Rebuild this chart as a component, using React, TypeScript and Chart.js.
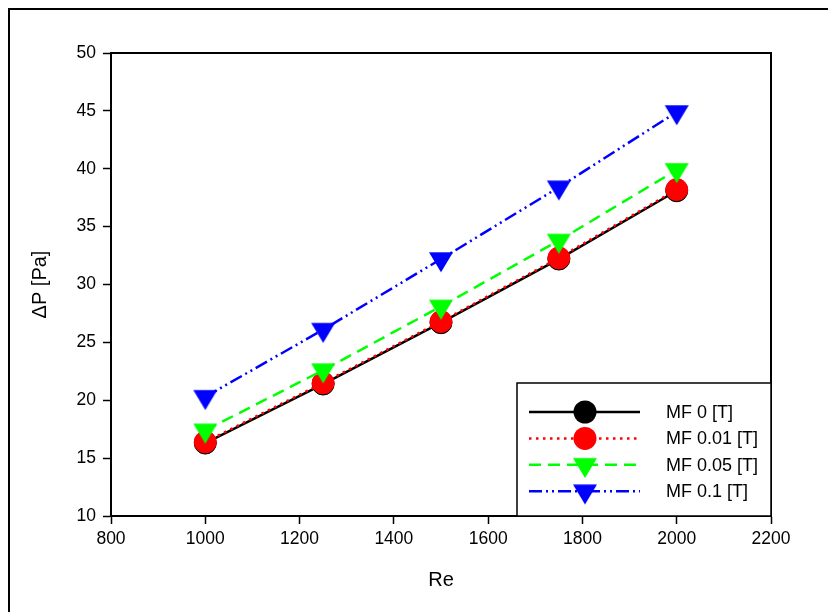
import React, { useEffect, useRef } from 'react';
import { Chart, registerables } from 'chart.js';

Chart.register(...registerables);

// ---- data ----
const reValues = [1000, 1250, 1500, 1750, 2000];
const mf0 = [16.3, 21.4, 26.7, 32.2, 38.1];
const mf001 = [16.4, 21.5, 26.8, 32.3, 38.2];
const mf005 = [17.4, 22.6, 28.1, 33.8, 39.9];
const mf01 = [20.3, 26.1, 32.2, 38.4, 44.9];
const seriesLabels = ['MF 0 [T]', 'MF 0.01 [T]', 'MF 0.05 [T]', 'MF 0.1 [T]'];
const xAxisTitle = 'Re';
const yAxisTitle = 'ΔP [Pa]';
const xMin = 800, xMax = 2200, xStep = 200;
const yMin = 10, yMax = 50, yStep = 5;

const FONT = "'Liberation Sans', Arial, sans-serif";

function makeTriangle(color: string): HTMLCanvasElement {
  const c = document.createElement('canvas');
  c.width = 30;
  c.height = 30;
  const ctx = c.getContext('2d')!;
  const w = 24, h = 20, cx = 15, cy = 15;
  const top = cy - h / 3;
  const bottom = cy + (2 * h) / 3;
  ctx.fillStyle = color;
  ctx.beginPath();
  ctx.moveTo(cx - w / 2, top);
  ctx.lineTo(cx + w / 2, top);
  ctx.lineTo(cx, bottom);
  ctx.closePath();
  ctx.fill();
  return c;
}

const framePlugin = {
  id: 'frame',
  beforeDraw(chart: any) {
    const ctx = chart.ctx;
    ctx.save();
    ctx.fillStyle = '#fff';
    ctx.fillRect(0, 0, chart.width, chart.height);
    ctx.strokeStyle = '#000';
    ctx.lineWidth = 2;
    ctx.beginPath();
    ctx.moveTo(9, chart.height + 5);
    ctx.lineTo(9, 9);
    ctx.lineTo(chart.width + 5, 9);
    ctx.stroke();
    ctx.restore();
  },
  afterDraw(chart: any) {
    const ctx = chart.ctx;
    const a = chart.chartArea;
    ctx.save();
    ctx.strokeStyle = '#000';
    ctx.lineWidth = 2;
    ctx.beginPath();
    ctx.moveTo(a.left, a.top);
    ctx.lineTo(a.right, a.top);
    ctx.lineTo(a.right, a.bottom);
    ctx.stroke();

    // legend box
    const bw = 254, bh = 133;
    const left = a.right - bw;
    const top = a.bottom - bh;
    ctx.fillStyle = '#fff';
    ctx.fillRect(left, top, bw, bh);
    ctx.lineWidth = 1.5;
    ctx.strokeRect(left, top, bw, bh);

    const ds = chart.data.datasets;
    const legendOrder = [0, 1, 2, 3];
    legendOrder.forEach((idx: number, i: number) => {
      const d = ds[idx];
      const y = top + 29 + i * 26.4;
      ctx.save();
      ctx.strokeStyle = d.borderColor;
      ctx.lineWidth = d.borderWidth;
      ctx.setLineDash(d.borderDash || []);
      ctx.beginPath();
      ctx.moveTo(left + 12, y);
      ctx.lineTo(left + 123, y);
      ctx.stroke();
      ctx.restore();
      const mx = left + 68;
      if (d.pointStyle === 'circle') {
        ctx.fillStyle = d.pointBackgroundColor;
        ctx.beginPath();
        ctx.arc(mx, y, d.pointRadius + 0.5, 0, Math.PI * 2);
        ctx.fill();
      } else {
        const img = d.pointStyle as HTMLCanvasElement;
        ctx.drawImage(img, mx - img.width / 2, y - img.height / 2);
      }
      ctx.fillStyle = '#000';
      ctx.font = `18px ${FONT}`;
      ctx.textBaseline = 'middle';
      ctx.textAlign = 'left';
      ctx.fillText(d.label, left + 149, y + 1);
    });
    ctx.restore();
  },
};

export default function App() {
  const canvasRef = useRef<HTMLCanvasElement | null>(null);

  useEffect(() => {
    if (!canvasRef.current) return;
    const pts = (vals: number[]) => reValues.map((x, i) => ({ x, y: vals[i] }));
    const triGreen = makeTriangle('#00ff00');
    const triBlue = makeTriangle('#0000ff');

    const chart = new Chart(canvasRef.current, {
      type: 'line',
      data: {
        datasets: [
          {
            label: seriesLabels[0],
            data: pts(mf0),
            borderColor: '#000000',
            borderWidth: 2.5,
            borderDash: [],
            pointStyle: 'circle',
            pointRadius: 11,
            pointBorderWidth: 1,
            pointBackgroundColor: '#000000',
            pointBorderColor: '#000000',
            order: 4,
          },
          {
            label: seriesLabels[1],
            data: pts(mf001),
            borderColor: '#ff0000',
            borderWidth: 2.5,
            borderDash: [2.5, 4.5],
            pointStyle: 'circle',
            pointRadius: 11,
            pointBorderWidth: 1,
            pointBackgroundColor: '#ff0000',
            pointBorderColor: '#ff0000',
            order: 3,
          },
          {
            label: seriesLabels[2],
            data: pts(mf005),
            borderColor: '#00ff00',
            borderWidth: 2.5,
            borderDash: [12, 7],
            pointStyle: triGreen,
            pointRadius: 12,
            pointBackgroundColor: '#00ff00',
            pointBorderColor: '#00ff00',
            order: 2,
          },
          {
            label: seriesLabels[3],
            data: pts(mf01),
            borderColor: '#0000ff',
            borderWidth: 2.5,
            borderDash: [13, 4, 2, 4, 2, 4],
            pointStyle: triBlue,
            pointRadius: 12,
            pointBackgroundColor: '#0000ff',
            pointBorderColor: '#0000ff',
            order: 1,
          },
        ] as any,
      },
      options: {
        responsive: false,
        animation: false,
        devicePixelRatio: 1,
        layout: { padding: { left: 0, right: 57, top: 53, bottom: 0 } },
        plugins: { legend: { display: false }, tooltip: { enabled: false } },
        elements: { line: { tension: 0 } },
        scales: {
          x: {
            type: 'linear',
            min: xMin,
            max: xMax,
            ticks: {
              stepSize: xStep,
              color: '#000',
              font: { family: FONT, size: 17.5 },
              padding: 5,
              maxRotation: 0,
              autoSkip: false,
              callback: (v: any) => String(v),
            },
            grid: {
              display: true,
              drawOnChartArea: false,
              drawTicks: true,
              tickLength: 8,
              tickWidth: 1.5,
              tickColor: '#000',
            },
            border: { display: true, color: '#000', width: 2 },
            title: {
              display: true,
              text: xAxisTitle,
              color: '#000',
              font: { family: FONT, size: 20 },
              padding: { top: 0, bottom: 20 },
            },
            afterFit: (scale: any) => {
              scale.height = 96;
            },
          },
          y: {
            type: 'linear',
            min: yMin,
            max: yMax,
            ticks: {
              stepSize: yStep,
              color: '#000',
              font: { family: FONT, size: 17.5 },
              padding: 7,
              callback: (v: any) => String(v),
            },
            grid: {
              display: true,
              drawOnChartArea: false,
              drawTicks: true,
              tickLength: 8,
              tickWidth: 1.5,
              tickColor: '#000',
            },
            border: { display: true, color: '#000', width: 2 },
            title: {
              display: true,
              text: yAxisTitle,
              color: '#000',
              font: { family: FONT, size: 20 },
              padding: { top: 28, bottom: 0 },
            },
            afterFit: (scale: any) => {
              scale.width = 111;
            },
          },
        },
      } as any,
      plugins: [framePlugin],
    });
    return () => chart.destroy();
  }, []);

  return (
    <canvas
      ref={canvasRef}
      width={828}
      height={612}
      style={{ position: 'absolute', left: 0, top: 0, width: 828, height: 612 }}
    />
  );
}
